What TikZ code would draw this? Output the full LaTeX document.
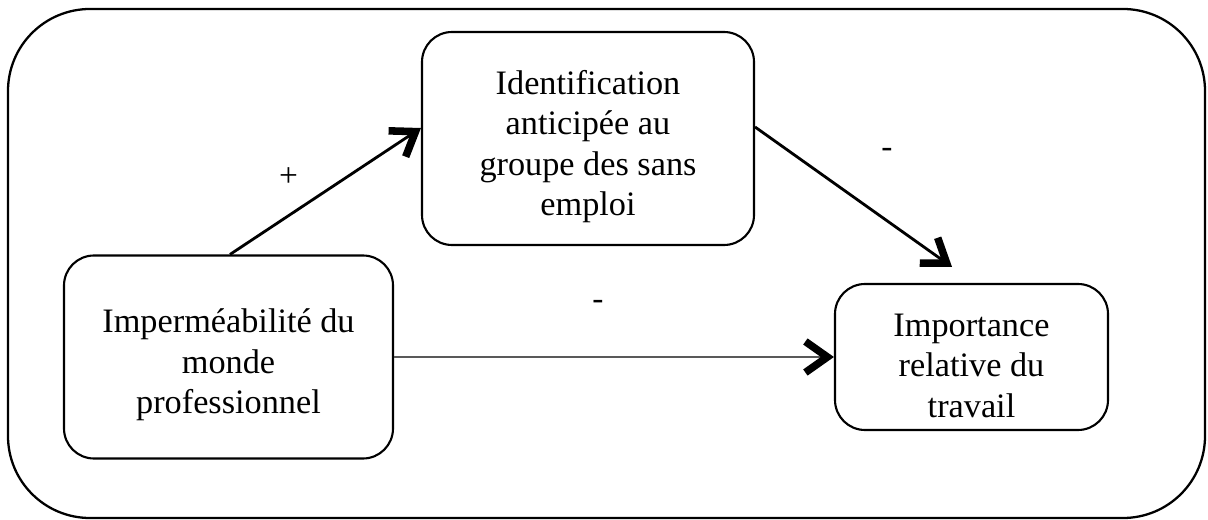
\documentclass[tikz,border=0pt]{standalone}
\usepackage{fontspec}
\setmainfont{Liberation Serif}
\usetikzlibrary{arrows.meta}
\newcommand{\topsp}{\rule{0pt}{0.8cm}}
\tikzset{
  box/.style={draw,line width=1.2pt,rounded corners=0.6cm,align=center,
    font=\fontsize{19.5}{23}\selectfont},
  arr/.style={line width=1.6pt,-{Straight Barb[length=0.44cm,width=0.62cm,line width=4.3pt]}},
  sign/.style={font=\fontsize{19}{23}\selectfont}
}
\begin{document}
\begin{tikzpicture}
        \useasboundingbox (0,0) rectangle (24.16,-10.4);
        \draw[line width=1.3pt,rounded corners=1.64cm] (0.16,-0.18) rectangle (24.1,-10.36);
        \path (4.57,-7.14) node[box,minimum width=6.58cm,minimum height=4.06cm](imperm){\topsp Imperméabilité du\\monde\\professionnel};
        \path (11.76,-2.77) node[box,minimum width=6.64cm,minimum height=4.26cm](ident){\topsp Identification\\anticipée au\\groupe des sans\\emploi};
        \path (19.43,-7.14) node[box,minimum width=5.46cm,minimum height=2.92cm](import){\topsp Importance\\relative du\\travail};
        \draw[arr] ([xshift=0.03cm]imperm.north) -- node[sign,xshift=-0.74cm,yshift=0.28cm](plus){+} ([yshift=0.21cm]ident.west);
        \draw[arr] ([yshift=0.23cm]ident.east) -- node[sign,xshift=0.67cm,yshift=0.89cm](minusA){-} ([xshift=-0.39cm,yshift=0.32cm]import.north);
        \draw[arr,line width=1.2pt,draw=black!65,-{Straight Barb[length=0.44cm,width=0.62cm,line width=4.3pt,color=black]}] (imperm.east) -- node[sign,xshift=-0.32cm,yshift=1.04cm](minusB){-} (import.west);


    \end{tikzpicture}
\end{document}
